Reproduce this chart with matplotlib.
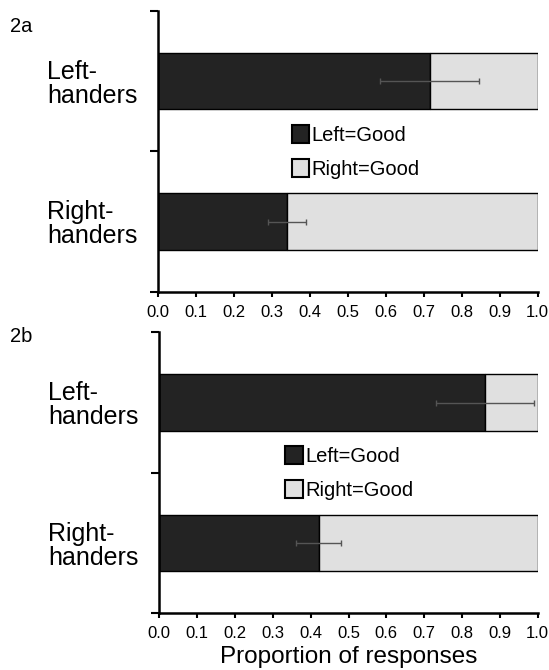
import numpy as np
import matplotlib
matplotlib.use("Agg")
import matplotlib.pyplot as plt
from matplotlib.patches import Patch

plt.rcParams['font.family'] = ['Liberation Sans', 'DejaVu Sans']

# === Data ===
groups = ["Left-\nhanders", "Right-\nhanders"]
series = ["Left=Good", "Right=Good"]

# proportion of Left=Good responses, with error
left_good_a = [0.715, 0.339]
err_a = [0.13, 0.05]
left_good_b = [0.861, 0.421]
err_b = [0.13, 0.06]

panel_tags = ["2a", "2b"]
xticks = np.round(np.arange(0, 1.01, 0.1), 1)

dark = "#232323"
light = "#e0e0e0"

fig = plt.figure(figsize=(5.49, 6.70), dpi=100)
W, H = 549, 670

def px_axes(left, top, right, bottom):
    return fig.add_axes([left / W, 1 - bottom / H, (right - left) / W, (bottom - top) / H])

ax_a = px_axes(158.3, 11, 537.7, 291.7)
ax_b = px_axes(159.3, 332.3, 537.7, 613.3)

legend_pos = [(291.7, 125), (285.4, 446)]
tag_pos = [(10, 27), (10, 337)]

for i, (ax, lg, er) in enumerate([(ax_a, left_good_a, err_a), (ax_b, left_good_b, err_b)]):
    ypos = np.arange(len(groups)) + 0.5
    right_good = [1 - v for v in lg]
    ax.barh(ypos, lg, height=0.4, color=dark, edgecolor="black", linewidth=1)
    ax.barh(ypos, right_good, left=lg, height=0.4, color=light, edgecolor="black", linewidth=1)
    ax.errorbar(lg, ypos, xerr=er, fmt="none", ecolor="#555555", elinewidth=1,
                capsize=2.5, capthick=1)

    ax.set_xlim(0, 1)
    ax.set_ylim(2, 0)
    ax.set_xticks(xticks)
    ax.set_xticklabels([f"{t:.1f}" for t in xticks], fontsize=12)
    ax.set_yticks([0, 1, 2])
    ax.set_yticklabels([])
    ax.set_yticks(ypos, minor=True)
    ax.set_yticklabels(groups, minor=True, fontsize=18, ha="left", linespacing=1.0)
    ax.tick_params(axis="y", which="minor", length=0, pad=80)
    ax.tick_params(axis="y", which="major", length=6, width=1.5)
    ax.tick_params(axis="x", length=3.5, width=1.5, pad=6)

    for s in ["top", "right"]:
        ax.spines[s].set_visible(False)
    for s in ["left", "bottom"]:
        ax.spines[s].set_linewidth(1.8)

    handles = [Patch(facecolor=dark, edgecolor="black", linewidth=1.5),
               Patch(facecolor=light, edgecolor="black", linewidth=1.5)]
    lx, ly = legend_pos[i]
    ax.legend(handles, series, loc="upper left",
              bbox_to_anchor=(lx / W, 1 - ly / H), bbox_transform=fig.transFigure,
              frameon=False, fontsize=14.5, handlelength=0.85, handleheight=1.0,
              handletextpad=0.15, labelspacing=0.7, borderpad=0, borderaxespad=0)

    tx, ty = tag_pos[i]
    fig.text(tx / W, 1 - ty / H, panel_tags[i], fontsize=14.5, va="center", ha="left")

ax_b.set_xlabel("Proportion of responses", fontsize=17.5, labelpad=3)

fig.savefig("out.png", dpi=100)
